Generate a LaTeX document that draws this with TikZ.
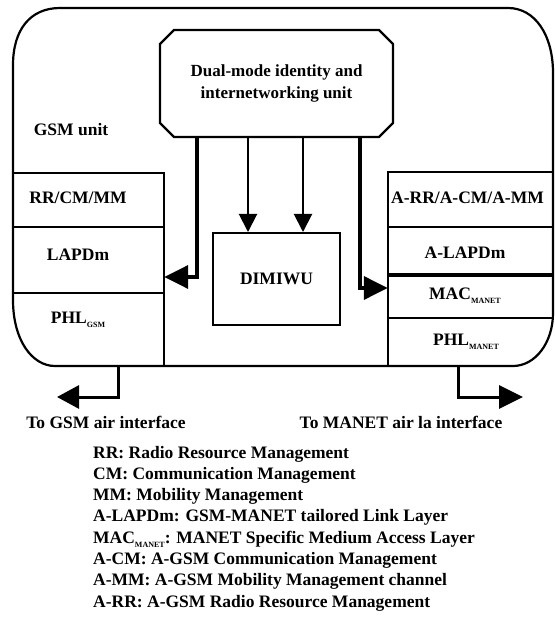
\documentclass[tikz,border=0pt]{standalone}
\usepackage{fontspec}
\setmainfont{Liberation Serif}
\usetikzlibrary{arrows.meta,shapes.misc,calc}
\newcommand{\subx}[1]{\raisebox{-4pt}{\fontsize{8}{8}\selectfont #1}}
\begin{document}
\begin{tikzpicture}[x=1pt,y=-1pt,
  every node/.style={font=\bfseries\fontsize{17.5}{21}\selectfont, inner sep=0pt},
  outerline/.style={line width=2.2pt, line join=round},
  gridline/.style={line width=2pt},
  thickline/.style={line width=3.5pt},
  cell/.style={draw=none, minimum width=151pt},
  bigtip/.style={-{Triangle[length=24pt,width=23pt]}},
  smalltip/.style={-{Triangle[length=18pt,width=18pt]}},
  legend/.style={anchor=base west}
]
\useasboundingbox (0,0) rectangle (554,617);

% outer unit border
\draw[outerline] (13,65) .. controls (13,30) and (30,8) .. (60,8) -- (508,8)
  .. controls (535,8) and (553,35) .. (553,73) -- (553,313)
  .. controls (553,343) and (535,366) .. (513,366) -- (55,366)
  .. controls (32,366) and (13,340) .. (13,300) -- cycle;

\node (gsm) at (71,130) {GSM unit};

% top box
\node[draw, line width=2.2pt, chamfered rectangle, chamfered rectangle xsep=7pt,
  chamfered rectangle ysep=7pt, minimum width=233pt, minimum height=107pt,
  align=center, font=\bfseries\fontsize{17}{22}\selectfont] (top) at (276.5,83.5)
  {Dual-mode identity and\\internetworking unit};

% DIMIWU
\node[draw, line width=2pt, minimum width=127pt, minimum height=92pt] (dim) at (276.5,279) {DIMIWU};

% left stack cells
\node[cell, minimum height=54pt] (l1) at (88.5,200) {};
\node[cell, minimum height=66pt] (l2) at (88.5,260) {};
\node[cell, minimum height=73pt] (l3) at (88.5,329.5) {};
\node (l1t) at (78,198) {RR/CM/MM};
\node (l2t) at (78,255) {LAPDm};
\node (l3t) at (78,320) {PHL\subx{GSM}};
\draw[gridline] (l1.north west) -- (l1.north east) -- (l3.south east);
\draw[gridline] (l1.south west) -- (l1.south east);
\draw[line width=1.5pt] (l2.south west) -- (l2.south east);

% right stack cells
\node[cell, minimum width=165pt, minimum height=55pt] (r1) at (470.5,199.5) {};
\node[cell, minimum width=165pt, minimum height=48pt] (r2) at (470.5,251) {};
\node[cell, minimum width=165pt, minimum height=43pt] (r3) at (470.5,296.5) {};
\node[cell, minimum width=165pt, minimum height=48pt] (r4) at (470.5,342) {};
\node[anchor=west] (r1t) at (391,198) {A-RR/A-CM/A-MM};
\node (r2t) at (465,253) {A-LAPDm};
\node (r3t) at (465,296) {MAC\subx{MANET}};
\node (r4t) at (466,342) {PHL\subx{MANET}};
\draw[gridline] (r1.north east) -- (r1.north west) -- (r4.south west);
\draw[gridline] (r1.south west) -- (r1.south east);
\draw[thickline] (r2.south west) -- (r2.south east);
\draw[gridline] (r3.south west) -- (r3.south east);

% connectors from top box
\coordinate (a1) at (197,277);
\coordinate (a2) at (248,0);
\coordinate (a3) at (303,0);
\coordinate (a4) at (360,288);
\draw[thickline, bigtip] (top.south -| a1) -- (a1) -- (a1 -| l2.east);
\draw[gridline, smalltip] (top.south -| a2) -- (dim.north -| a2);
\draw[gridline, smalltip] (top.south -| a3) -- (dim.north -| a3);
\draw[thickline, bigtip] (top.south -| a4) -- (a4) -- (a4 -| r3.west);

% air interface arrows
\coordinate (g0) at (118,366);
\coordinate (g1) at (118,397);
\coordinate (gt) at (57,397);
\coordinate (m0) at (458,366);
\coordinate (m1) at (458,397);
\coordinate (mt) at (523,397);
\draw[line width=3pt, -{Triangle[length=22pt,width=23pt]}] (g0) -- (g1) -- (gt);
\draw[line width=3pt, -{Triangle[length=24pt,width=23pt]}] (m0) -- (m1) -- (mt);

\node (gl) at (106,422) {To GSM air interface};
\node (ml) at (401,422) {To MANET air la interface};

% legend
\node[legend] (k1) at (93,458) {RR: Radio Resource Management};
\node[legend] (k2) at (93,479.3) {CM: Communication Management};
\node[legend] (k3) at (93,500.6) {MM: Mobility Management};
\node[legend] (k4) at (93,521.9) {A-LAPDm: GSM-MANET tailored Link Layer};
\node[legend] (k5) at (93,543.2) {MAC\subx{MANET}: MANET Specific Medium Access Layer};
\node[legend] (k6) at (93,564.5) {A-CM: A-GSM Communication Management};
\node[legend] (k7) at (93,585.8) {A-MM: A-GSM Mobility Management channel};
\node[legend] (k8) at (93,607.1) {A-RR: A-GSM Radio Resource Management};
\end{tikzpicture}
\end{document}
